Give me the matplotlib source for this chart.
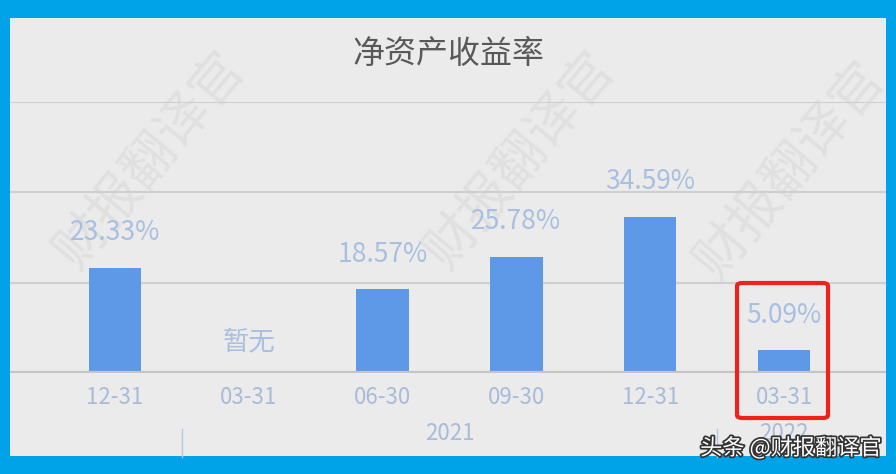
import matplotlib.pyplot as plt
import matplotlib.patheffects as pe
from matplotlib.patches import Rectangle, FancyBboxPatch

plt.rcParams['font.family'] = ['Noto Sans CJK SC', 'DejaVu Sans']

dates = ['12-31', '03-31', '06-30', '09-30', '12-31', '03-31']
years = ['2021', '2022']
roe = [23.33, None, 18.57, 25.78, 34.59, 5.09]
labels = ['23.33%', '暂无', '18.57%', '25.78%', '34.59%', '5.09%']

W, H = 896, 474
fig = plt.figure(figsize=(W / 100, H / 100), dpi=100)
fig.patch.set_facecolor('#00A2E8')

# inner gray panel
fig.patches.append(Rectangle((10 / W, 1 - 456 / H), 876 / W, 438 / H,
                             transform=fig.transFigure, facecolor='#EBEBEB',
                             edgecolor='none', zorder=-2))

# watermark
for x0, y0 in [(150, 160), (520, 160), (790, 170)]:
    fig.text(x0 / W, 1 - y0 / H, '财报翻译官', fontsize=38, color='#E0E0E0',
             rotation=50, ha='center', va='center', zorder=-1)

ax = fig.add_axes([10 / W, 1 - 373 / H, 876 / W, 271 / H])
ax.patch.set_visible(False)
x = list(range(len(dates)))
ax.set_xlim(-105 / 134, 5 + 102 / 134)
ax.set_ylim(0, 60)

for g in [20, 40, 60]:
    ax.axhline(g, color='#CFCFCF', lw=1.5, zorder=1)
ax.axhline(0, color='#C4C4C4', lw=3, zorder=3)

vals = [v if v is not None else 0 for v in roe]
ax.bar(x, vals, width=0.39, color='#5E99E8', zorder=2)

lab_color = '#A9BFE0'
for i, (v, t) in enumerate(zip(roe, labels)):
    yv = 6.7 if v is None else v + 7.7
    ax.text(i, yv, t, ha='center', va='center', fontsize=19, color=lab_color)

for s in ax.spines.values():
    s.set_visible(False)
ax.set_yticks([])
ax.set_xticks(x)
ax.set_xticklabels(dates, fontsize=16, color='#A9BBD8')
ax.tick_params(axis='x', length=0, pad=9)

# year group labels
ax.text(2.5, -13.5, years[0], ha='center', va='center', fontsize=16,
        color='#A9BBD8', clip_on=False)
ax.text(5, -13.5, years[1], ha='center', va='center', fontsize=16,
        color='#A9BBD8', clip_on=False)
for sx in [0.5, 4.5]:
    ax.plot([sx, sx], [-12.5, -18.5], color='#B8C6DE', lw=1, clip_on=False)

ax.set_title('净资产收益率', fontsize=23, color='#595959', pad=28)

# red highlight box
fig.patches.append(FancyBboxPatch((737 / W, 1 - 418 / H), 91 / W, 135 / H,
                                  boxstyle='round,pad=0,rounding_size=0.006',
                                  transform=fig.transFigure, facecolor='none',
                                  edgecolor='#F0201A', lw=3, zorder=10))

fig.text(791 / W, 1 - 448 / H, '头条 @财报翻译官', fontsize=16, color='white',
         ha='center', va='center', zorder=11,
         path_effects=[pe.withStroke(linewidth=2.5, foreground='#333333')])

fig.savefig('out.png', dpi=100, facecolor=fig.get_facecolor())
